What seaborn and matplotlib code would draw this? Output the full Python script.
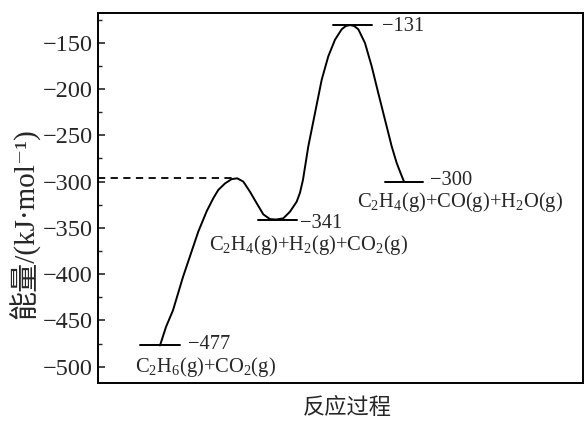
import matplotlib
matplotlib.use("Agg")
import matplotlib.pyplot as plt
import seaborn as sns
import pandas as pd
import numpy as np

# ---- data (reaction coordinate, energy in kJ/mol) ----
curve_x = [62, 68, 75, 85, 95, 100.3, 108.7, 115.3, 120.3, 127, 133.7, 139.3,
           145.3, 152, 158.7, 165.3, 172, 178, 185.3, 192, 198.7, 202, 205,
           210.3, 217, 223.7, 230.3, 237, 243.7, 247.8, 252, 256.2, 260.3, 267,
           273.7, 280.3, 287, 293.7, 298.7, 303, 306]
curve_e = [-477, -457, -439, -403, -371, -354, -332, -318, -309, -302, -297.3,
           -296.5, -300, -311, -323.4, -335.4, -340.5, -341, -339.7, -332.5,
           -321.7, -312, -298, -262, -226, -190, -164.7, -146.8, -135.5, -132,
           -131, -132, -135.5, -150.4, -175.6, -204.5, -233.3, -262, -280, -292,
           -300]

level_values = [-477, -341, -131, -300]
level_start = [42, 160, 235, 287]
level_end = [82, 199, 274, 325]
level_labels = ["−477", "−341", "−131", "−300"]
species_labels = ["C$_2$H$_6$(g)+CO$_2$(g)",
                  "C$_2$H$_4$(g)+H$_2$(g)+CO$_2$(g)",
                  "C$_2$H$_4$(g)+CO(g)+H$_2$O(g)"]
ts1_energy = -296.5
yticks = [-150, -200, -250, -300, -350, -400, -450, -500]

sns.set_style("ticks")
plt.rcParams["font.family"] = ["Liberation Serif", "Noto Sans CJK SC", "DejaVu Serif"]
plt.rcParams["mathtext.default"] = "regular"
plt.rcParams["axes.unicode_minus"] = True

fig = plt.figure(figsize=(5.85, 4.21), dpi=100)
ax = fig.add_axes([0.1675, 0.0903, 0.8291, 0.8787])

df = pd.DataFrame({"x": curve_x, "E": curve_e})
sns.lineplot(data=df, x="x", y="E", sort=False, color="black", linewidth=1.4, ax=ax)

for xs, xe, v in zip(level_start, level_end, level_values):
    ax.plot([xs, xe], [v, v], color="black", linewidth=1.4)

ax.plot([0, curve_x[11]], [ts1_energy, ts1_energy], color="black", linewidth=1.3,
        linestyle=(0, (4, 3)))

fs = 14.8
# level value labels
ax.text(90, -476, level_labels[0], fontsize=fs, va="center", ha="left")
ax.text(202, -345, level_labels[1], fontsize=fs, va="center", ha="left")
ax.text(284, -133, level_labels[2], fontsize=fs, va="center", ha="left")
ax.text(332, -298.5, level_labels[3], fontsize=fs, va="center", ha="left")
# species labels
ax.text(107, -500, species_labels[0], fontsize=fs, va="center", ha="center")
ax.text(211, -368, species_labels[1], fontsize=fs, va="center", ha="center")
ax.text(362, -322.5, species_labels[2], fontsize=fs, va="center", ha="center")

ax.set_xlim(0, 485)
ax.set_ylim(-517.5, -118)
ax.set_xticks([])
ax.set_yticks(yticks)
ax.set_yticklabels([f"−{abs(v)}" for v in yticks])
ax.set_yticks(np.arange(-500, -100, 25), minor=True)
ax.tick_params(axis="y", which="major", direction="in", length=5, width=1.2,
               labelsize=17.5, pad=4)
ax.tick_params(axis="y", which="minor", direction="in", length=3, width=1.0)
for s in ax.spines.values():
    s.set_visible(True)
    s.set_linewidth(1.4)
    s.set_color("black")

ax.set_xlabel("反应过程", fontsize=16, family=["Noto Sans CJK SC"])
ax.xaxis.set_label_coords(0.515, -0.066, transform=ax.transAxes)
ax.xaxis.label.set_va("center")
ax.set_ylabel("能量/(kJ·mol⁻¹)", fontsize=21)
ax.yaxis.set_label_coords(-0.150, 0.432, transform=ax.transAxes)
ax.yaxis.label.set_va("center")

fig.savefig("out.png", dpi=100)
